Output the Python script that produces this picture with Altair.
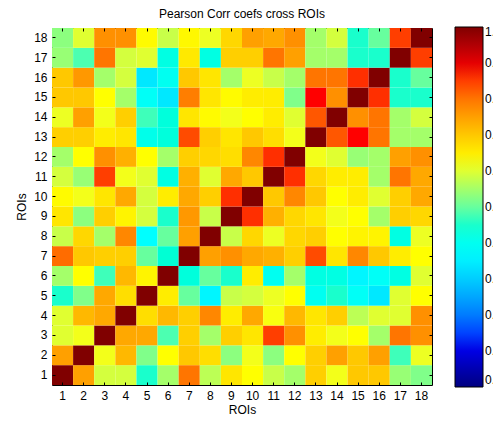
import altair as alt
import pandas as pd

rois = list(range(1, 19))

row_01 = [1.00, 0.75, 0.59, 0.59, 0.45, 0.55, 0.80, 0.57, 0.66, 0.625, 0.58, 0.55, 0.69, 0.615, 0.70, 0.70, 0.54, 0.52]
row_02 = [0.75, 1.00, 0.615, 0.72, 0.52, 0.625, 0.70, 0.67, 0.53, 0.615, 0.53, 0.625, 0.69, 0.75, 0.70, 0.75, 0.47, 0.61]
row_03 = [0.60, 0.615, 1.00, 0.74, 0.74, 0.48, 0.69, 0.55, 0.69, 0.66, 0.85, 0.77, 0.65, 0.615, 0.625, 0.55, 0.80, 0.77]
row_04 = [0.60, 0.72, 0.74, 1.00, 0.67, 0.72, 0.69, 0.78, 0.65, 0.74, 0.62, 0.72, 0.66, 0.69, 0.57, 0.60, 0.60, 0.77]
row_05 = [0.45, 0.52, 0.74, 0.67, 1.00, 0.65, 0.50, 0.36, 0.58, 0.59, 0.61, 0.625, 0.40, 0.45, 0.39, 0.34, 0.60, 0.625]
row_06 = [0.55, 0.625, 0.47, 0.72, 0.64, 1.00, 0.43, 0.50, 0.45, 0.65, 0.40, 0.55, 0.42, 0.42, 0.36, 0.39, 0.42, 0.60]
row_07 = [0.81, 0.70, 0.69, 0.69, 0.50, 0.44, 1.00, 0.75, 0.77, 0.74, 0.73, 0.69, 0.84, 0.66, 0.78, 0.70, 0.65, 0.625]
row_08 = [0.58, 0.68, 0.55, 0.78, 0.375, 0.50, 0.75, 1.00, 0.58, 0.68, 0.61, 0.68, 0.69, 0.625, 0.64, 0.64, 0.42, 0.61]
row_09 = [0.66, 0.53, 0.69, 0.64, 0.59, 0.45, 0.76, 0.58, 1.00, 0.86, 0.73, 0.68, 0.66, 0.615, 0.625, 0.55, 0.69, 0.68]
row_10 = [0.63, 0.615, 0.66, 0.74, 0.59, 0.65, 0.74, 0.69, 0.86, 1.00, 0.70, 0.78, 0.70, 0.625, 0.65, 0.60, 0.69, 0.74]
row_11 = [0.59, 0.54, 0.85, 0.615, 0.60, 0.42, 0.73, 0.60, 0.74, 0.70, 1.00, 0.86, 0.68, 0.65, 0.65, 0.55, 0.80, 0.74]
row_12 = [0.55, 0.625, 0.77, 0.73, 0.625, 0.55, 0.69, 0.68, 0.67, 0.78, 0.86, 1.00, 0.615, 0.60, 0.54, 0.55, 0.75, 0.77]
row_13 = [0.69, 0.69, 0.65, 0.66, 0.41, 0.43, 0.84, 0.69, 0.66, 0.70, 0.67, 0.615, 1.00, 0.83, 0.875, 0.80, 0.55, 0.55]
row_14 = [0.61, 0.75, 0.615, 0.69, 0.47, 0.43, 0.66, 0.63, 0.615, 0.625, 0.65, 0.60, 0.83, 1.00, 0.77, 0.80, 0.55, 0.59]
row_15 = [0.70, 0.70, 0.625, 0.55, 0.39, 0.34, 0.79, 0.66, 0.63, 0.65, 0.65, 0.52, 0.875, 0.77, 1.00, 0.86, 0.45, 0.45]
row_16 = [0.70, 0.76, 0.55, 0.59, 0.34, 0.40, 0.70, 0.66, 0.55, 0.61, 0.58, 0.55, 0.80, 0.80, 0.86, 1.00, 0.45, 0.50]
row_17 = [0.54, 0.48, 0.80, 0.59, 0.60, 0.42, 0.655, 0.42, 0.69, 0.69, 0.80, 0.75, 0.55, 0.55, 0.45, 0.45, 1.00, 0.85]
row_18 = [0.53, 0.60, 0.77, 0.77, 0.63, 0.58, 0.635, 0.61, 0.68, 0.75, 0.74, 0.77, 0.55, 0.59, 0.45, 0.50, 0.85, 1.00]

rows = [row_01, row_02, row_03, row_04, row_05, row_06, row_07, row_08, row_09,
        row_10, row_11, row_12, row_13, row_14, row_15, row_16, row_17, row_18]

records = []
for ri, row in zip(rois, rows):
    for ci, v in zip(rois, row):
        records.append({"col": ci, "row": ri, "r": v})
df = pd.DataFrame(records)

jet_stops = [0, 0.125, 0.375, 0.625, 0.875, 1]
jet_colors = ["#000080", "#0000ff", "#00ffff", "#ffff00", "#ff0000", "#800000"]
cbar_values = [0, 0.1, 0.2, 0.3, 0.4, 0.5, 0.6, 0.7, 0.8, 0.9, 1]

FONT = "Liberation Sans"
xscale = alt.Scale(paddingInner=0, paddingOuter=0)
yscale = alt.Scale(paddingInner=0, paddingOuter=0)

common_axis = dict(labelFontSize=12, titleFontSize=12, labelFont=FONT, titleFont=FONT,
                   labelColor="black", titleColor="black", titleFontWeight="normal",
                   domain=False, tickColor="black", tickSize=3, offset=-3)

heat = alt.Chart(df).mark_rect().encode(
    x=alt.X("col:O", sort=rois, title="ROIs", scale=xscale,
            axis=alt.Axis(orient="bottom", labelAngle=0, labelPadding=5, titlePadding=3,
                          **common_axis)),
    y=alt.Y("row:O", sort=list(reversed(rois)), title="ROIs", scale=yscale,
            axis=alt.Axis(orient="left", labelPadding=5, titlePadding=5, **common_axis)),
    color=alt.Color("r:Q",
                    scale=alt.Scale(domain=jet_stops, range=jet_colors, type="linear"),
                    legend=alt.Legend(title=None, orient="none", legendX=403, legendY=-1,
                                      direction="vertical", gradientLength=360,
                                      gradientThickness=28, gradientStrokeColor="black",
                                      gradientStrokeWidth=1, values=cbar_values,
                                      labelFontSize=12, labelFont=FONT, labelColor="black",
                                      labelOffset=2)),
)

ticks_only = dict(domain=False, labels=False, title=None, tickColor="black",
                  tickSize=3, offset=-3)

frame = alt.Chart(df).mark_rect(opacity=0).encode(
    x=alt.X("col:O", sort=rois, scale=xscale, axis=alt.Axis(orient="top", **ticks_only)),
    y=alt.Y("row:O", sort=list(reversed(rois)), scale=yscale,
            axis=alt.Axis(orient="right", **ticks_only)),
)

chart = alt.layer(heat, frame).resolve_axis(x="independent", y="independent").properties(
    width=380, height=357,
    title=alt.TitleParams("Pearson Corr coefs cross ROIs", font=FONT, fontSize=12,
                          fontWeight="normal", color="black", offset=6),
    autosize=alt.AutoSizeParams(type="none"),
    padding={"left": 52, "top": 28, "right": 61, "bottom": 39},
).configure_view(stroke="black", strokeWidth=1)

chart.save("out.html", embed_options={"renderer": "svg", "actions": False})
